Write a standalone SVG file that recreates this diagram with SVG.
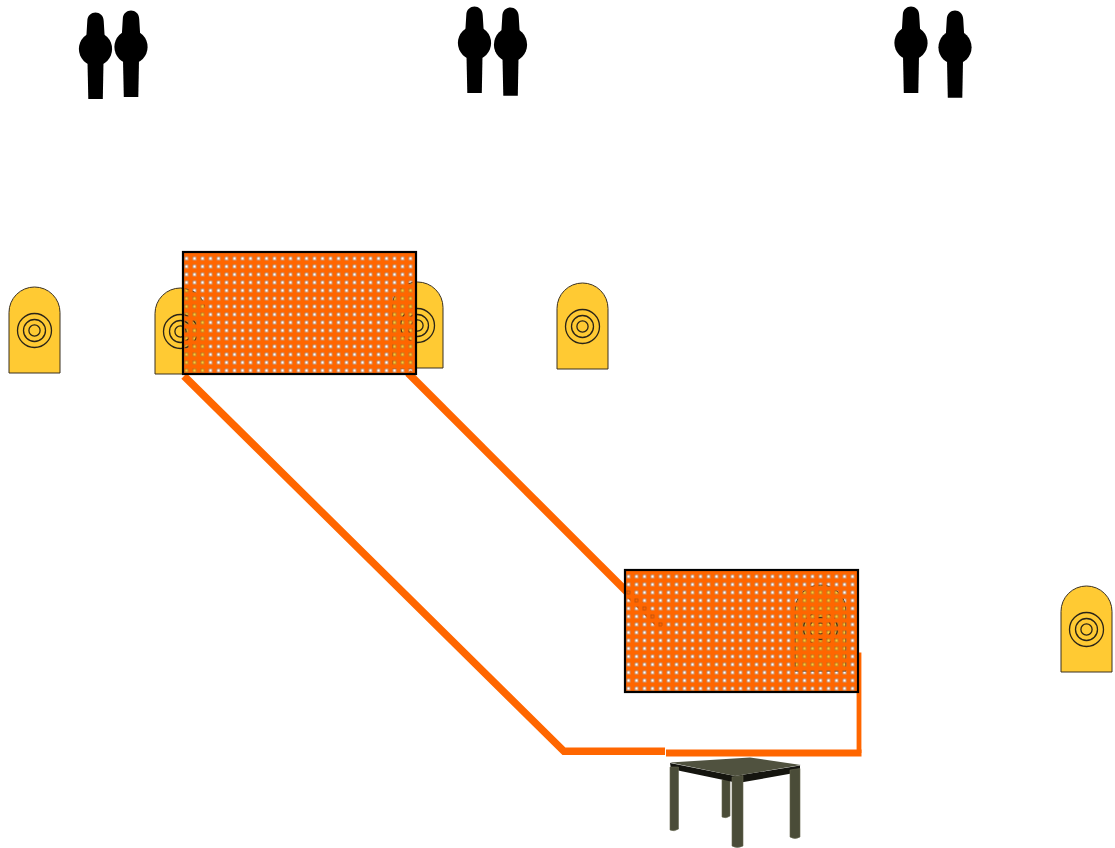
<svg xmlns="http://www.w3.org/2000/svg" xmlns:xlink="http://www.w3.org/1999/xlink" width="1115" height="848" viewBox="0 0 1115 848">
  <style>
    .popper { fill: #000; }
    .target-body { fill: #FFCA33; stroke: #3a3020; stroke-width: 1; }
    .target-ring { fill: none; stroke: #2a2418; stroke-width: 1.3; }
    .wall-frame { fill: none; stroke: #000; stroke-width: 2.2; }
    .tape { fill: none; stroke: #FF6600; stroke-linecap: butt; stroke-linejoin: miter; }
    .table-top { fill: #50523f; }
    .table-apron { fill: #15150f; }
    .table-leg { fill: #4a4c38; stroke: #65674f; stroke-width: 0.6; }
  </style>
  <defs>
    <!-- steel popper silhouette, centred on x=0, top at y=0 -->
    <g id="popper">
      <path class="popper" d="M-9.5,30 L-8.2,9 C-8,-2.5 8,-2.5 8.2,9 L9.5,30 Z"/>
      <ellipse class="popper" cx="0" cy="37" rx="16.6" ry="16.8"/>
      <path class="popper" d="M-8,50 H8 L7.3,87 H-7.2 Z"/>
    </g>
    <!-- paper target, 51 x 86, origin top-left -->
    <g id="target">
      <path class="target-body" d="M0,86 V25.5 A25.5,25.5 0 0 1 51,25.5 V86 Z"/>
      <circle class="target-ring" cx="25.5" cy="43.5" r="17"/>
      <circle class="target-ring" cx="25.5" cy="43.5" r="11"/>
      <circle class="target-ring" cx="25.5" cy="43.5" r="5.6"/>
    </g>
    <!-- perforated wall: orange sheet with square openings on an 8px pitch -->
    <pattern id="perforation" patternUnits="userSpaceOnUse" x="-0.5" y="2.5" width="8" height="8">
      <path d="M0,0 H8 V8 H0 Z M2.3,2.3 V5.7 H5.7 V2.3 Z" fill="#FF6600" fill-rule="evenodd"/>
      <rect x="2.5" y="2.5" width="3" height="3" fill="none" stroke="#5a3a25" stroke-opacity="0.6" stroke-width="0.6"/>
    </pattern>
  </defs>

  <!-- paper targets -->
  <g id="targets">
    <use id="target-1" xlink:href="#target" x="9" y="287"/>
    <use id="target-2" xlink:href="#target" x="155" y="288"/>
    <use id="target-3" xlink:href="#target" x="392" y="282"/>
    <use id="target-4" xlink:href="#target" x="557" y="283"/>
    <use id="target-5" xlink:href="#target" x="795" y="585"/>
    <use id="target-6" xlink:href="#target" x="1061" y="586"/>
  </g>

  <!-- tape lines on the floor -->
  <g id="connectors">
    <polyline class="tape" stroke-width="7.5" points="184,376 564,751.3 665,751.3"/>
    <line class="tape" stroke-width="7.5" x1="408" y1="373" x2="662" y2="627"/>
    <line class="tape" stroke-width="7" x1="666" y1="753" x2="861.5" y2="753"/>
    <line class="tape" stroke-width="4.8" x1="859" y1="652.5" x2="859" y2="753"/>
  </g>

  <!-- perforated walls -->
  <g id="wall-1" transform="translate(183,252)">
    <rect x="0" y="0" width="233" height="122" fill="url(#perforation)"/>
    <rect class="wall-frame" x="0" y="0" width="233" height="122"/>
  </g>
  <g id="wall-2" transform="translate(625,570)">
    <rect x="0" y="0" width="233" height="122" fill="url(#perforation)"/>
    <rect class="wall-frame" x="0" y="0" width="233" height="122"/>
  </g>

  <!-- steel poppers -->
  <g id="poppers-left">
    <use xlink:href="#popper" transform="translate(95.5,12)"/>
    <use xlink:href="#popper" transform="translate(131,10)"/>
  </g>
  <g id="poppers-middle">
    <use xlink:href="#popper" transform="translate(474.5,6)"/>
    <use xlink:href="#popper" transform="translate(510.5,7) scale(1,1.02)"/>
  </g>
  <g id="poppers-right">
    <use xlink:href="#popper" transform="translate(911,6)"/>
    <use xlink:href="#popper" transform="translate(955,10) scale(1,1.01)"/>
  </g>

  <!-- start table -->
  <g id="table">
    <path class="table-leg" d="M722,780 H730 V816 Q726,819 722,817 Z"/>
    <path class="table-apron" d="M670,763 L735,776 L800,765.5 L800,772 L738,783 L671,769 Z"/>
    <path class="table-top" d="M670,762.5 L750,757.5 L801,765 L735,776 Z"/>
    <path class="table-leg" d="M670,767 H678.5 V829 Q674,832 670,830 Z"/>
    <path class="table-leg" d="M732,777 L743,775.5 V846 Q737,849 732,846 Z"/>
    <path class="table-leg" d="M790,770 L800,768.5 V837 Q795,840 790,837 Z"/>
  </g>
</svg>
